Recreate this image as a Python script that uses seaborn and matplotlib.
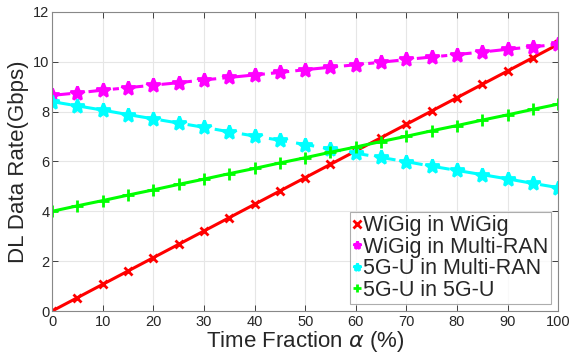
import matplotlib
matplotlib.use("Agg")
import matplotlib.pyplot as plt
import seaborn as sns
import pandas as pd

time_fraction = [0, 5, 10, 15, 20, 25, 30, 35, 40, 45, 50, 55, 60, 65, 70, 75, 80, 85, 90, 95, 100]
wigig_in_wigig = [0.00, 0.535, 1.07, 1.605, 2.14, 2.675, 3.21, 3.745, 4.28, 4.815, 5.35,
                  5.885, 6.42, 6.955, 7.49, 8.025, 8.56, 9.095, 9.63, 10.165, 10.70]
wigig_in_multiran = [8.65, 8.75, 8.86, 8.96, 9.06, 9.16, 9.27, 9.37, 9.47, 9.57, 9.68,
                     9.78, 9.88, 9.98, 10.09, 10.19, 10.29, 10.39, 10.50, 10.60, 10.70]
fiveg_in_multiran = [8.40, 8.23, 8.06, 7.88, 7.71, 7.54, 7.37, 7.19, 7.02, 6.85, 6.68,
                     6.50, 6.33, 6.16, 5.99, 5.81, 5.64, 5.47, 5.30, 5.12, 4.95]
fiveg_in_fiveg = [4.00, 4.22, 4.43, 4.65, 4.86, 5.08, 5.29, 5.51, 5.72, 5.94, 6.15,
                  6.37, 6.58, 6.80, 7.01, 7.23, 7.44, 7.66, 7.87, 8.09, 8.30]
series_names = ["WiGig in WiGig", "WiGig in Multi-RAN", "5G-U in Multi-RAN", "5G-U in 5G-U"]
x_ticks = [0, 10, 20, 30, 40, 50, 60, 70, 80, 90, 100]
y_ticks = [0, 2, 4, 6, 8, 10, 12]

sns.set_theme(style="whitegrid")
plt.rcParams['font.family'] = ['Liberation Sans', 'DejaVu Sans']

fig = plt.figure(figsize=(5.72, 3.6), dpi=100)
ax = fig.add_axes([0.091, 0.136, 0.885, 0.831])

styles = [
    dict(color="#ff0000", marker="x", linestyle="-", ms=6, mew=2),
    dict(color="#ff00ff", marker="*", linestyle=(0, (6, 2, 2, 2)), ms=10, mew=2),
    dict(color="#00ffff", marker="*", linestyle=(0, (6, 3)), ms=10, mew=2),
    dict(color="#00ff00", marker="+", linestyle="-", ms=8, mew=2),
]
data = [wigig_in_wigig, wigig_in_multiran, fiveg_in_multiran, fiveg_in_fiveg]
for name, vals, st in zip(series_names, data, styles):
    df = pd.DataFrame({"x": time_fraction, "y": vals})
    sns.lineplot(data=df, x="x", y="y", ax=ax, label=name, color=st["color"],
                 marker=st["marker"], linestyle=st["linestyle"], linewidth=2.2,
                 markersize=st["ms"], markeredgewidth=st["mew"],
                 markeredgecolor=st["color"], markerfacecolor=st["color"])

ax.set_xlim(0, 100)
ax.set_ylim(0, 12)
ax.set_xticks(x_ticks)
ax.set_yticks(y_ticks)
ax.tick_params(axis="both", labelsize=10.5, colors="#262626", direction="in", length=4,
               width=0.6, top=True, right=True, left=True, bottom=True, pad=2)
ax.tick_params(axis="x", pad=3)
ax.grid(True, color="#e6e6e6", linewidth=0.8)
for sp in ax.spines.values():
    sp.set_visible(True)
    sp.set_color("#888888")
    sp.set_linewidth(0.8)
ax.set_facecolor("white")
ax.set_xlabel(r"Time Fraction $\alpha$ (%)", fontsize=16, color="#262626", labelpad=0)
ax.set_ylabel("DL Data Rate(Gbps)", fontsize=16, color="#262626", labelpad=3)

leg = ax.legend(loc="lower right", bbox_to_anchor=(0.995, 0.01), fontsize=15.5,
                handlelength=0.35, handletextpad=0.1, borderpad=0.15, labelspacing=0.02,
                frameon=True, fancybox=False, borderaxespad=0.2)
leg.get_frame().set_edgecolor("#999999")
leg.get_frame().set_linewidth(0.8)
for h in leg.legend_handles:
    h.set_linestyle("None")
    h.set_markersize(6)

fig.savefig("out.png", dpi=100)
